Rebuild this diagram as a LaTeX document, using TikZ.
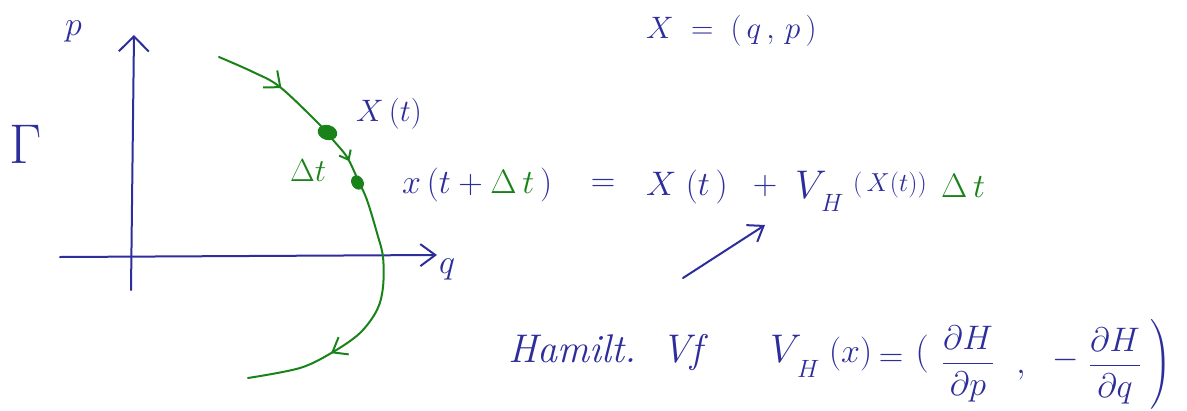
\RequirePackage{fix-cm}
\documentclass[tikz,border=0pt]{standalone}
\usepackage{amsmath}
\usetikzlibrary{arrows.meta,decorations.markings,shapes.geometric}
\definecolor{hblue}{RGB}{45,45,155}
\definecolor{hgreen}{RGB}{25,130,25}
\begin{document}
\begin{tikzpicture}[x=1pt,y=-1pt, line cap=round, line join=round,
  ink/.style={hblue, line width=2pt},
  gink/.style={hgreen, line width=2pt},
  txt/.style={hblue, inner sep=0pt, font=\fontsize{34}{40}\selectfont},
  gtxt/.style={hgreen, inner sep=0pt, font=\fontsize{34}{40}\selectfont},
  sub/.style={hblue, inner sep=0pt, font=\fontsize{25}{28}\selectfont},
  flow/.style={gink, postaction={decorate}, decoration={markings,
     mark=at position 70pt with {\arrow{Straight Barb[length=13pt,width=22pt,line width=2pt]}},
     mark=at position 170pt with {\arrow{Straight Barb[length=8pt,width=13pt,line width=2pt]}},
     mark=at position 390pt with {\arrow{Straight Barb[length=13pt,width=20pt,line width=2pt]}}}}
]
\useasboundingbox (0,0) rectangle (1187,410);

% axes
\coordinate (pb) at (131,290);
\coordinate (pt) at (134,35);
\coordinate (ql) at (60,257);
\coordinate (qr) at (437,255);
\draw[ink, -{Straight Barb[length=15pt,width=30pt,line width=2pt]}] (pb) -- (pt);
\draw[ink, -{Straight Barb[length=15pt,width=22pt,line width=2pt]}] (ql) -- (qr);

\node[txt, anchor=base west] (plab) at (65,35) {$p$};
\node[txt, anchor=base west] (qlab) at (439,273) {$q$};
\node[txt, font=\fontsize{56}{60}\selectfont, anchor=base west] (gam) at (9,163) {$\Gamma$};

% trajectory
\draw[flow] plot[smooth, tension=0.55] coordinates {(219,57) (253,72) (280,87) (320,125) (333,140) (347,157) (358,180) (367,200) (377,233) (383,257) (383,287) (377,310) (360,333) (333,352) (300,368) (248,378)};
\node[fill=hgreen, ellipse, minimum width=20pt, minimum height=15pt, inner sep=0pt, rotate=-15] (x0) at (327.5,132.5) {};
\node[fill=hgreen, ellipse, minimum width=12pt, minimum height=15pt, inner sep=0pt, rotate=30] (x1) at (357.5,182.5) {};

\node[txt, font=\fontsize{31}{36}\selectfont, anchor=base west] (xt) at (356,121) {$X\,(t)$};
\node[gtxt, font=\fontsize{32}{36}\selectfont, anchor=base west] (dt) at (290,181) {$\Delta t$};

% update equation
\node[txt, anchor=base west] (eqL) at (402,193) {$x\,(t+\textcolor{hgreen}{\Delta\,t}\,)$};
\node[txt] (eqE) at (603,185) {$=$};
\node[txt, anchor=base west] (eqX) at (646,195) {$X\;(t\,)$};
\node[txt] (eqP) at (765,186) {$+$};
\node[txt, font=\fontsize{40}{44}\selectfont, anchor=base west] (eqV) at (795,198) {$V$};
\node[sub, anchor=base west] (eqH) at (821,211) {$H$};
\node[txt, font=\fontsize{26}{30}\selectfont, anchor=base west] (eqA) at (853,191) {$(\,X(t))$};
\node[gtxt, anchor=base west] (eqD) at (941,197) {$\Delta\,t$};

% arrow
\coordinate (a1) at (683,278);
\coordinate (a2) at (765,225);
\draw[ink, -{Straight Barb[length=14pt,width=20pt,line width=2pt]}] (a1) -- (a2);

% top
\node[txt, font=\fontsize{31}{36}\selectfont, anchor=base west] (xdef) at (646,38) {$X\;=\;(\,q\,,\,p\,)$};

% bottom
\node[txt, font=\fontsize{40}{46}\selectfont, anchor=base west] (hv1) at (508,362) {\textit{Hamilt.}};
\node[txt, font=\fontsize{40}{46}\selectfont, anchor=base west] (hv2) at (661,362) {\textit{Vf}};
\node[txt, font=\fontsize{40}{46}\selectfont, anchor=base west] (vhV) at (770,362) {$V$};
\node[sub, anchor=base west] (vhH) at (797,377) {$H$};
\node[txt, anchor=base west] (vhx) at (829,362) {$(x)$};
\node[txt] (vhE) at (891,360) {$=$};
\node[txt, font=\fontsize{38}{44}\selectfont] (lp) at (922,354) {$($};
\node[txt, anchor=base] (f1) at (968,372) {$\dfrac{\partial H}{\partial p}$};
\node[txt, anchor=base] (cm) at (1021,373) {$,$};
\node[txt] (mn) at (1066,360) {$-$};
\node[txt, anchor=base] (f2) at (1115,374) {$\dfrac{\partial H}{\partial q}$};
\node[txt, font=\fontsize{28}{32}\selectfont] (rp) at (1161,364) {$\Bigg)$};
\end{tikzpicture}
\end{document}
